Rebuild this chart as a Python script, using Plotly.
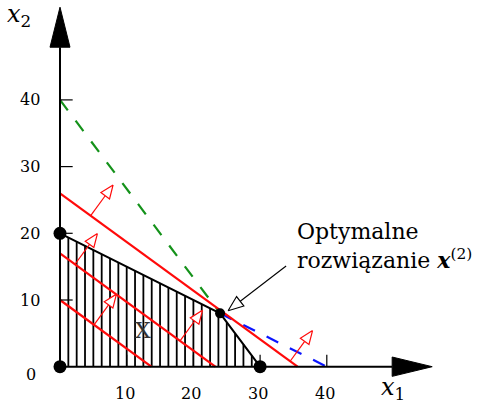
import numpy as np
import plotly.graph_objects as go

# ---- data ----
con_a1 = [1, 4]          # constraint coefficients for x1
con_a2 = [2, 3]          # constraint coefficients for x2
con_b = [40, 120]        # right-hand sides
optimum = [24, 8]
obj_c = [0.73, 1.0]      # objective direction (level lines c.x = level)
obj_levels = [10, 17, 26]
arrow_x = [[5.1], [2.25, 18.0], [4.6, 34.5]]   # where the gradient arrows start on each level line
x_ticks = [10, 20, 30, 40]
x_tick_labels = ["10", "20", "30", "40"]
y_ticks = [10, 20, 30, 40]
y_tick_labels = ["10", "20", "30", "40"]
region_label = "X"
annot_line1 = "Optymalne"
annot_line2 = "rozwiązanie <b><i>x</i></b><sup>(2)</sup>"

# ---- geometry of the page ----
K = 6.67
OX, OY = 60, 366.7
W, H = 479, 404
xr = [-OX / K, (W - OX) / K]
yr = [-(H - OY) / K, OY / K]

FONT = "DejaVu Serif"
fig = go.Figure()


def line(xs, ys, color="black", width=2, dash=None):
    fig.add_trace(go.Scatter(x=xs, y=ys, mode="lines",
                             line=dict(color=color, width=width, dash=dash),
                             hoverinfo="skip"))


def tri(tip, d, length, half, fill, color, lw=1.2):
    d = np.array(d, float)
    d /= np.linalg.norm(d)
    p = np.array([-d[1], d[0]])
    tip = np.array(tip, float)
    base = tip - d * length
    c1 = base + p * half
    c2 = base - p * half
    fig.add_trace(go.Scatter(x=[tip[0], c1[0], c2[0], tip[0]],
                             y=[tip[1], c1[1], c2[1], tip[1]],
                             mode="lines", fill="toself", fillcolor=fill,
                             line=dict(color=color, width=lw), hoverinfo="skip"))
    return base


# feasible region vertices
y_int0 = con_b[0] / con_a2[0]
x_int1 = con_b[1] / con_a1[1]
vx = [0, 0, optimum[0], x_int1]
vy = [0, y_int0, optimum[1], 0]


def top(x):
    return min((con_b[0] - con_a1[0] * x) / con_a2[0], (con_b[1] - con_a1[1] * x) / con_a2[1])


# hatching
for hx in np.arange(1.25, x_int1, 1.25):
    line([hx, hx], [0, top(hx)], width=1.8)

# boundary of feasible region
line([vx[1], vx[2], vx[3]], [vy[1], vy[2], vy[3]], width=2)

# dashed constraint continuations
line([0, optimum[0]], [con_b[1] / con_a2[1], optimum[1]], color="#14921a", width=2.2, dash="13px,13px")
line([optimum[0], con_b[0] / con_a1[0]], [optimum[1], 0], color="#0a14ff", width=2.2, dash="13px,13px")

# objective level lines
for lev in obj_levels:
    line([0, lev / obj_c[0]], [lev / obj_c[1], 0], color="#ff0a0a", width=2.2)

# gradient arrows
n = np.array(obj_c) / np.linalg.norm(obj_c)
L, HL, HW = 5.7, 2.0, 0.8
for lev, xs in zip(obj_levels, arrow_x):
    for x0 in xs:
        s = np.array([x0, (lev - obj_c[0] * x0) / obj_c[1]])
        tip = s + n * L
        base = tip - n * HL
        line([s[0], base[0]], [s[1], base[1]], color="#ff0a0a", width=1.2)
        tri(tip, n, HL, HW, "white", "#ff0a0a", 1.2)

# axes
line([0, 49.8], [0, 0], width=2)
line([0, 0], [0, 47.9], width=2)
tri([55.8, 0], [1, 0], 6.0, 1.45, "black", "black", 1)
tri([0, 53.9], [0, 1], 6.0, 1.5, "black", "black", 1)
for t in x_ticks:
    line([t, t], [0, 1.8], width=1.2)
for t in y_ticks:
    line([0, 1.9], [t, t], width=1.2)

# vertices
fig.add_trace(go.Scatter(x=[0, 0, x_int1], y=[0, y_int0, 0], mode="markers",
                         marker=dict(color="black", size=13), hoverinfo="skip"))
fig.add_trace(go.Scatter(x=[optimum[0]], y=[optimum[1]], mode="markers",
                         marker=dict(color="black", size=10), hoverinfo="skip"))

# annotation arrow
tail = np.array([33.9, 15.1])
tipA = np.array([25.2, 8.4])
dA = tipA - tail
dA = dA / np.linalg.norm(dA)
baseA = tipA - dA * 2.3
line([tail[0], baseA[0]], [tail[1], baseA[1]], width=1.1)
tri(tipA, dA, 2.3, 0.9, "white", "black", 1.1)

ann = []
for t, lab in zip(x_ticks, x_tick_labels):
    ann.append(dict(x=t - 0.3, y=-4.0, text=lab, xanchor="center", yanchor="middle"))
for t, lab in zip(y_ticks, y_tick_labels):
    ann.append(dict(x=-2.7, y=t, text=lab, xanchor="right", yanchor="middle"))
ann.append(dict(x=-4.4, y=-1.1, text="0", xanchor="center", yanchor="middle"))
ann.append(dict(x=47.9, y=-3.2, text="<i>x</i><sub>1</sub>", xanchor="left", yanchor="middle", size=24))
ann.append(dict(x=-8.2, y=52.6, text="<i>x</i><sub>2</sub>", xanchor="left", yanchor="middle", size=24))
ann.append(dict(x=12.5, y=5.5, text=region_label, xanchor="center", yanchor="middle", size=22, color="#333"))
ann.append(dict(x=35.2, y=20.2, text=annot_line1, xanchor="left", yanchor="middle", size=22))
ann.append(dict(x=35.2, y=16.2, text=annot_line2, xanchor="left", yanchor="middle", size=22))

annotations = []
for a in ann:
    size = a.pop("size", 16)
    color = a.pop("color", "black")
    annotations.append(dict(a, xref="x", yref="y", showarrow=False,
                            font=dict(family=FONT, size=size, color=color)))

fig.update_layout(width=W, height=H, margin=dict(l=0, r=0, t=0, b=0),
                  xaxis=dict(range=xr, visible=False, fixedrange=True),
                  yaxis=dict(range=yr, visible=False, fixedrange=True),
                  plot_bgcolor="white", paper_bgcolor="white", showlegend=False,
                  annotations=annotations)

fig.write_html("out.html", config={"displayModeBar": False},
               post_script="document.body.style.margin='0';document.body.style.overflow='hidden';")
